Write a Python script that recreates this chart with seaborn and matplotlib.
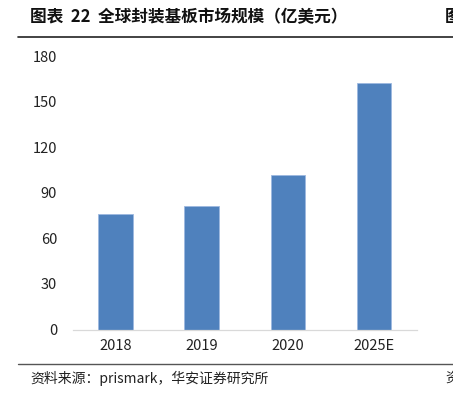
import matplotlib
matplotlib.use("Agg")
import matplotlib.pyplot as plt
import seaborn as sns
import pandas as pd
from matplotlib.lines import Line2D

years = ["2018", "2019", "2020", "2025E"]
values = [76, 81, 102, 162]
yticks = [0, 30, 60, 90, 120, 150, 180]

title = "图表  22  全球封装基板市场规模（亿美元）"
source = "资料来源：prismark，华安证券研究所"

sns.set_theme(style="white")
plt.rcParams['font.family'] = ['Noto Sans CJK SC', 'DejaVu Sans']

W, H = 453, 393
fig = plt.figure(figsize=(W / 100, H / 100), dpi=100)
ax = fig.add_axes([72.5 / W, 1 - 329.5 / H, (417 - 72.5) / W, (329.5 - 56) / H])

df = pd.DataFrame({"year": years, "value": values})
sns.barplot(data=df, x="year", y="value", color="#4F81BD", saturation=1,
            width=0.4, ax=ax, edgecolor="#9DB9E0", linewidth=0.6)

ax.set_ylim(0, 180)
ax.set_xlim(-0.5, 3.5)
ax.set_yticks(yticks)
ax.set_yticklabels([str(t) for t in yticks])
ax.set_xlabel("")
ax.set_ylabel("")
for s in ["top", "right", "left"]:
    ax.spines[s].set_visible(False)
ax.spines["bottom"].set_color("#D9D9D9")
ax.spines["bottom"].set_linewidth(0.9)
ax.tick_params(axis="both", length=0, labelsize=10.5, colors="#222222")
ax.tick_params(axis="y", pad=11)
ax.tick_params(axis="x", pad=7)
ax.grid(False)

# header
fig.text(30 / W, 1 - 17 / H, title, fontsize=12, fontweight="bold",
         va="center", ha="left", color="#111111")
fig.text(445 / W, 1 - 17 / H, "图", fontsize=12, fontweight="bold",
         va="center", ha="left", color="#111111")
fig.add_artist(Line2D([18 / W, 1], [1 - 37 / H, 1 - 37 / H], color="#222222", lw=1.2))

# footer
fig.add_artist(Line2D([18 / W, 1], [1 - 364 / H, 1 - 364 / H], color="#555555", lw=1.0))
fig.text(30 / W, 1 - 378 / H, source, fontsize=10, va="center", ha="left", color="#222222")
fig.text(445 / W, 1 - 378 / H, "资", fontsize=10, va="center", ha="left", color="#222222")

fig.savefig("out.png", dpi=100)
